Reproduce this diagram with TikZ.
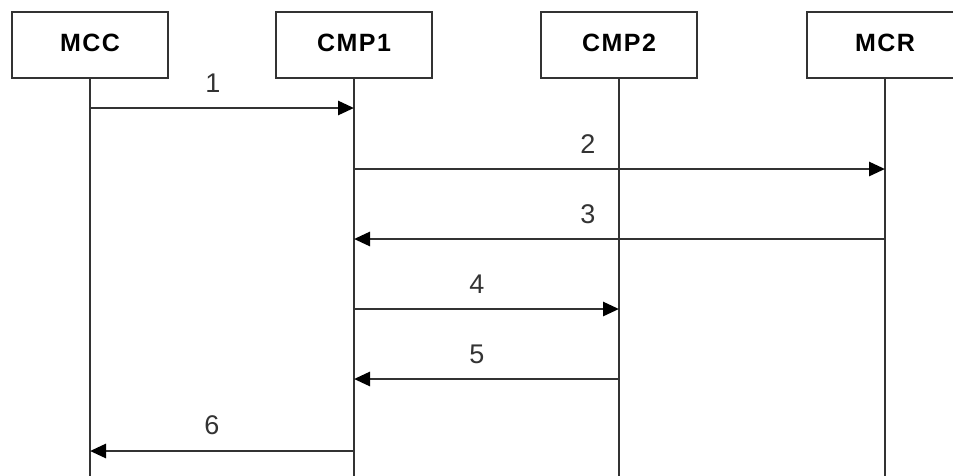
\documentclass[tikz,border=0pt]{standalone}
\usepackage{fontspec}
\setmainfont{Liberation Sans}
\newfontfamily\hdfont[LetterSpace=6]{Liberation Sans}
\usetikzlibrary{arrows.meta}
\definecolor{ln}{HTML}{333333}
\begin{document}
\begin{tikzpicture}[x=1pt,y=-1pt,
  actor/.style={draw=ln,line width=1.8pt,minimum width=156pt,minimum height=66pt,inner sep=0pt,
    font=\hdfont\fontsize{25}{25}\selectfont\bfseries},
  life/.style={draw=ln,line width=2.6pt},
  msg/.style={draw=ln,line width=2.8pt,-{Triangle[length=16pt,width=14pt,fill=black,color=black]}},
  lbl/.style={font=\fontsize{27}{27}\selectfont,text=black!80,inner sep=0pt}]
\useasboundingbox (0,0) rectangle (953,475);
\clip (0,0) rectangle (953,475);
\node[actor] (mcc)  at (90,45)  {\raisebox{5pt}{MCC}};
\node[actor] (cmp1) at (354,45) {\raisebox{5pt}{CMP1}};
\node[actor] (cmp2) at (619,45) {\raisebox{5pt}{CMP2}};
\node[actor] (mcr)  at (885,45) {\raisebox{5pt}{MCR}};
\coordinate (bot) at (0,476);
\foreach \n in {mcc,cmp1,cmp2,mcr}{
  \draw[life] (\n.south) -- (\n.south |- bot);
}
\coordinate (y1) at (0,108);
\coordinate (y2) at (0,169);
\coordinate (y3) at (0,239);
\coordinate (y4) at (0,309);
\coordinate (y5) at (0,379);
\coordinate (y6) at (0,451);
\draw[msg] (mcc.south |- y1) -- (cmp1.south |- y1);
\draw[msg] (cmp1.south |- y2) -- (mcr.south |- y2);
\draw[msg] (mcr.south |- y3) -- (cmp1.south |- y3);
\draw[msg] (cmp1.south |- y4) -- (cmp2.south |- y4);
\draw[msg] (cmp2.south |- y5) -- (cmp1.south |- y5);
\draw[msg] (cmp1.south |- y6) -- (mcc.south |- y6);
\node[lbl] (l1) at (213,83) {1};
\node[lbl] (l2) at (588,144) {2};
\node[lbl] (l3) at (588,214) {3};
\node[lbl] (l4) at (477,284) {4};
\node[lbl] (l5) at (477,354) {5};
\node[lbl] (l6) at (212,425) {6};
\end{tikzpicture}
\end{document}
